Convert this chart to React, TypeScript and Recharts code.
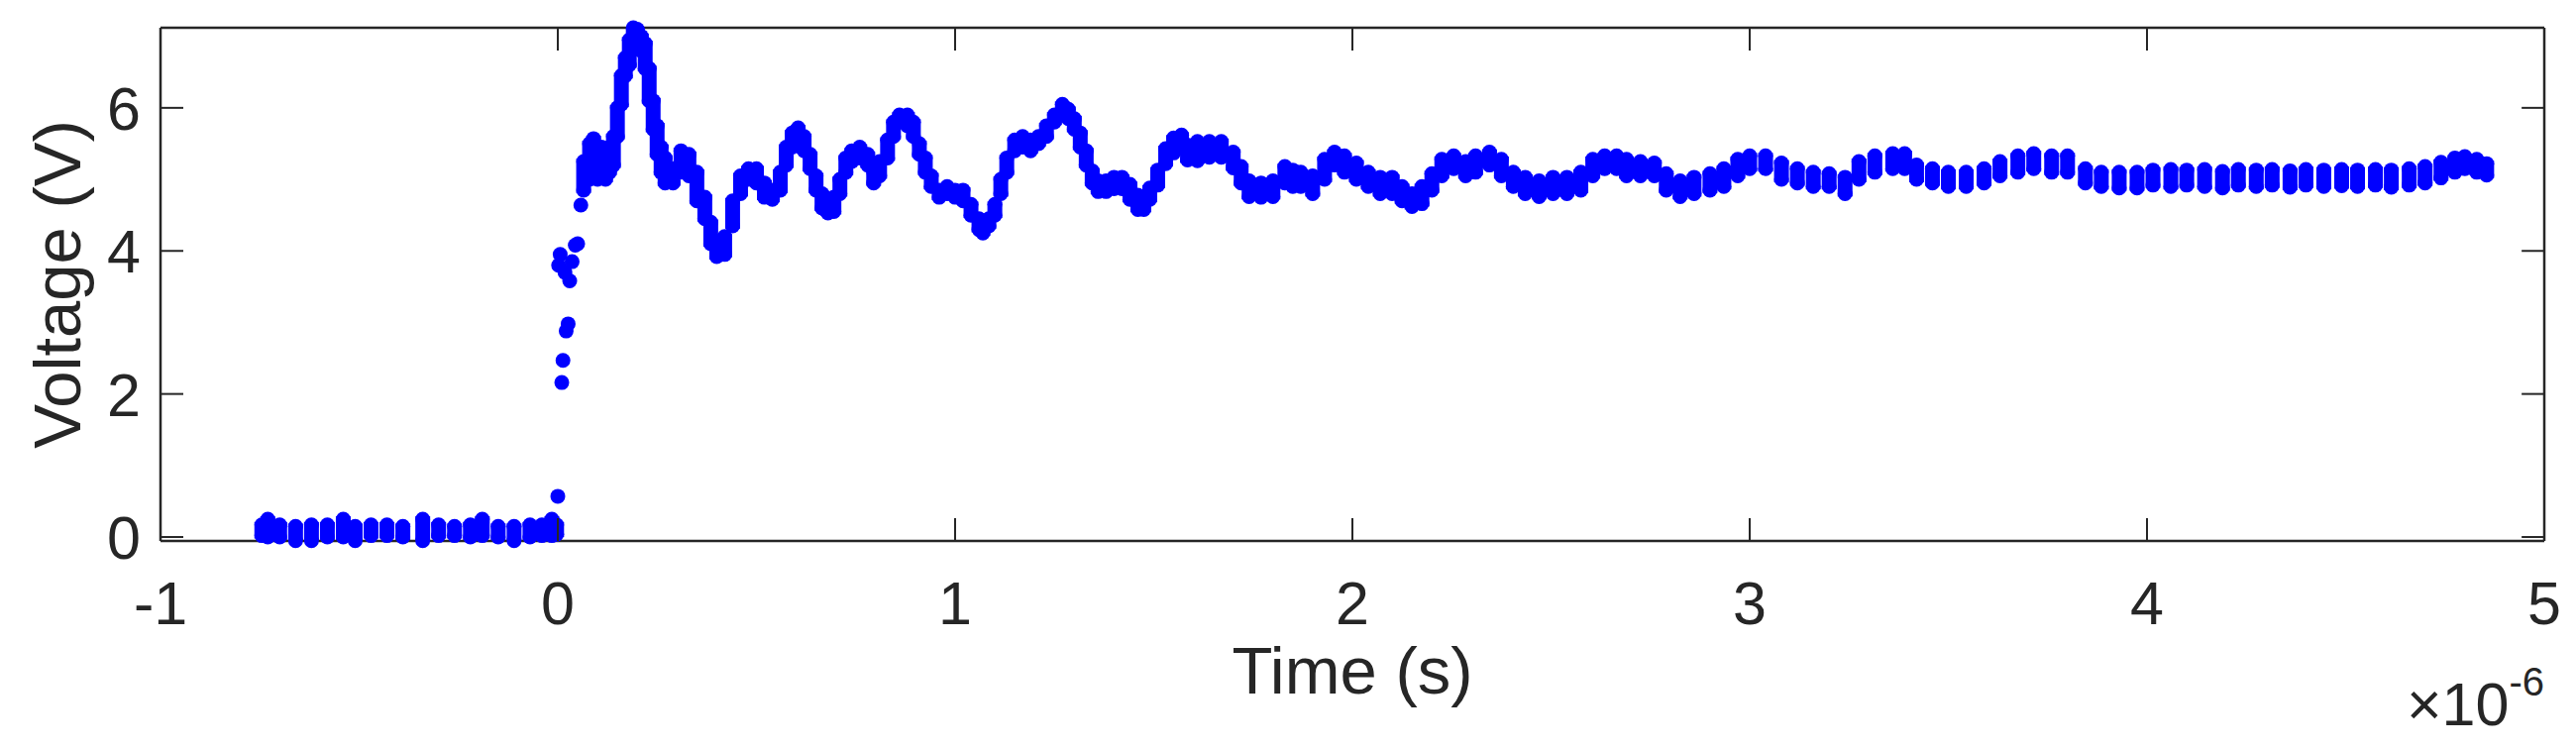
import { ComposedChart, Scatter, ErrorBar, XAxis, YAxis, ReferenceLine } from "recharts";

const AXIS = "#262626";
const BLUE = "#0000ff";
const FONT = '"Liberation Sans", Arial, Helvetica, sans-serif';
const DOT_R = 7.5;
// small overlap (volts) so the band fill tucks under the edge markers
const MARKER_PAD = 0.04;

// time in µs (axis shows ×10^-6 s), voltage in V
const X_MIN = -1;
const X_MAX = 5;
const Y_MIN = -0.055;
const Y_MAX = 7.12;
const xTicks = [-1, 0, 1, 2, 3, 4, 5];
const yTicks = [0, 2, 4, 6];

// pre-trigger baseline: lower / upper edge of the dot band
const baseT = [-0.745, -0.73, -0.7, -0.66, -0.62, -0.58, -0.54, -0.51, -0.47, -0.43, -0.39, -0.34, -0.3, -0.26, -0.22, -0.19, -0.15, -0.11, -0.07, -0.04, -0.015, -0.003];
const baseLo = [0.02, 0.0, 0.0, -0.05, -0.05, 0.0, 0.0, -0.05, 0.02, 0.02, 0.0, -0.05, 0.02, 0.02, 0.0, 0.02, 0.0, -0.05, 0.0, 0.02, 0.02, 0.04];
const baseHi = [0.17, 0.25, 0.17, 0.15, 0.17, 0.17, 0.25, 0.15, 0.17, 0.17, 0.15, 0.25, 0.17, 0.15, 0.17, 0.25, 0.15, 0.15, 0.17, 0.17, 0.25, 0.17];

// isolated samples on the rising edge
const riseT = [0.0, 0.01, 0.013, 0.021, 0.026, 0.002, 0.006, 0.018, 0.03, 0.036, 0.044, 0.05, 0.058];
const riseV = [0.57, 2.16, 2.47, 2.88, 2.98, 3.8, 3.95, 3.7, 3.58, 3.85, 4.08, 4.1, 4.64];

// ringing + settled signal: lower / upper edge of the dot band
const bandT = [
  0.065, 0.08, 0.09, 0.1, 0.11, 0.12, 0.13, 0.14, 0.15, 0.16,
  0.17, 0.18, 0.19, 0.2, 0.21, 0.22, 0.23, 0.24, 0.25, 0.26,
  0.27, 0.29, 0.31, 0.33, 0.35, 0.37, 0.385, 0.4, 0.42, 0.44,
  0.46, 0.48, 0.5, 0.52, 0.54, 0.56, 0.575, 0.59, 0.605, 0.62,
  0.635, 0.65, 0.665, 0.68, 0.695, 0.71, 0.725, 0.74, 0.76, 0.78,
  0.795, 0.81, 0.83, 0.845, 0.86, 0.88, 0.895, 0.91, 0.925, 0.94,
  0.96, 0.98, 1.0, 1.02, 1.04, 1.06, 1.07, 1.085, 1.1, 1.115,
  1.13, 1.15, 1.17, 1.19, 1.21, 1.23, 1.25, 1.27, 1.285, 1.3,
  1.315, 1.33, 1.345, 1.36, 1.38, 1.4, 1.42, 1.44, 1.46, 1.475,
  1.49, 1.51, 1.53, 1.55, 1.57, 1.585, 1.61, 1.64, 1.67, 1.7,
  1.72, 1.74, 1.77, 1.8, 1.83, 1.85, 1.87, 1.9, 1.93, 1.955,
  1.98, 2.01, 2.04, 2.07, 2.1, 2.125, 2.15, 2.175, 2.2, 2.225,
  2.255, 2.285, 2.31, 2.345, 2.375, 2.405, 2.435, 2.47, 2.505, 2.54,
  2.575, 2.605, 2.635, 2.665, 2.69, 2.725, 2.76, 2.79, 2.825, 2.86,
  2.9, 2.935, 2.97, 3.0, 3.04, 3.08, 3.12, 3.16, 3.2, 3.24,
  3.275, 3.315, 3.36, 3.39, 3.42, 3.46, 3.5, 3.545, 3.59, 3.63,
  3.675, 3.715, 3.76, 3.8, 3.845, 3.885, 3.93, 3.975, 4.015, 4.06,
  4.1, 4.145, 4.19, 4.23, 4.275, 4.315, 4.36, 4.4, 4.445, 4.49,
  4.53, 4.575, 4.615, 4.66, 4.7, 4.74, 4.775, 4.8, 4.83, 4.855,
];
const bandLo = [
  4.85, 5.0, 5.1, 5.0, 5.05, 5.0, 5.1, 5.2, 5.6, 6.05,
  6.45, 6.6, 6.95, 6.95, 6.8, 6.55, 6.1, 5.7, 5.35, 5.1,
  4.95, 4.95, 5.1, 5.05, 4.7, 4.45, 4.1, 3.92, 3.95, 4.35,
  4.8, 5.0, 4.95, 4.75, 4.72, 4.85, 5.2, 5.45, 5.6, 5.4,
  5.15, 4.85, 4.6, 4.53, 4.55, 4.8, 5.1, 5.25, 5.3, 5.2,
  4.95, 5.05, 5.3, 5.6, 5.8, 5.75, 5.6, 5.35, 5.1, 4.9,
  4.75, 4.8, 4.75, 4.7, 4.5, 4.3, 4.25, 4.35, 4.5, 4.8,
  5.1, 5.4, 5.45, 5.4, 5.5, 5.6, 5.8, 5.95, 5.85, 5.7,
  5.45, 5.2, 4.95, 4.83, 4.83, 4.87, 4.87, 4.72, 4.58, 4.58,
  4.72, 4.92, 5.22, 5.37, 5.47, 5.27, 5.26, 5.31, 5.31, 5.16,
  4.95, 4.76, 4.75, 4.76, 4.95, 4.9, 4.9, 4.8, 5.0, 5.2,
  5.1, 5.0, 4.9, 4.8, 4.8, 4.7, 4.62, 4.66, 4.85, 5.05,
  5.15, 5.05, 5.1, 5.2, 5.05, 4.9, 4.8, 4.76, 4.8, 4.8,
  4.85, 5.05, 5.15, 5.15, 5.05, 5.05, 5.05, 4.85, 4.76, 4.8,
  4.85, 4.9, 5.05, 5.15, 5.15, 5.0, 4.95, 4.9, 4.9, 4.8,
  5.0, 5.1, 5.15, 5.15, 5.0, 4.95, 4.9, 4.9, 4.95, 5.05,
  5.1, 5.15, 5.1, 5.1, 4.95, 4.9, 4.88, 4.88, 4.92, 4.9,
  4.92, 4.9, 4.88, 4.92, 4.9, 4.92, 4.89, 4.92, 4.9, 4.91,
  4.9, 4.92, 4.89, 4.92, 4.95, 5.02, 5.1, 5.15, 5.1, 5.06,
];
const bandHi = [
  5.25, 5.5, 5.57, 5.45, 5.45, 5.4, 5.45, 5.6, 6.0, 6.45,
  6.7, 6.95, 7.12, 7.1, 7.0, 6.9, 6.55, 6.1, 5.75, 5.45,
  5.3, 5.15, 5.4, 5.35, 5.1, 4.75, 4.4, 4.05, 4.2, 4.7,
  5.05, 5.15, 5.15, 4.95, 4.85, 5.1, 5.45, 5.65, 5.72, 5.6,
  5.35, 5.05, 4.8, 4.65, 4.75, 5.0, 5.3, 5.4, 5.45, 5.35,
  5.1, 5.25, 5.55, 5.8, 5.9, 5.9, 5.8, 5.5, 5.3, 5.05,
  4.85, 4.9, 4.85, 4.85, 4.65, 4.45, 4.35, 4.45, 4.65, 5.0,
  5.3, 5.55, 5.6, 5.55, 5.6, 5.75, 5.9, 6.05, 5.98, 5.85,
  5.65, 5.4, 5.12, 4.98, 4.98, 5.03, 5.03, 4.93, 4.78, 4.73,
  4.88, 5.13, 5.43, 5.58, 5.62, 5.48, 5.53, 5.53, 5.53, 5.38,
  5.18, 4.98, 4.95, 4.98, 5.18, 5.13, 5.1, 5.05, 5.28, 5.38,
  5.33, 5.23, 5.1, 5.03, 5.03, 4.9, 4.8, 4.9, 5.08, 5.28,
  5.33, 5.25, 5.33, 5.38, 5.28, 5.1, 5.03, 4.98, 5.03, 5.03,
  5.1, 5.28, 5.33, 5.33, 5.28, 5.25, 5.23, 5.08, 4.98, 5.03,
  5.08, 5.15, 5.28, 5.33, 5.33, 5.23, 5.15, 5.1, 5.08, 5.03,
  5.25, 5.33, 5.36, 5.36, 5.2, 5.15, 5.1, 5.1, 5.15, 5.25,
  5.33, 5.36, 5.33, 5.33, 5.15, 5.1, 5.1, 5.1, 5.13, 5.14,
  5.13, 5.14, 5.11, 5.14, 5.13, 5.14, 5.12, 5.14, 5.13, 5.14,
  5.13, 5.14, 5.13, 5.15, 5.18, 5.24, 5.3, 5.32, 5.28, 5.22,
];

const allT = [...baseT, ...bandT];
const allLo = [...baseLo, ...bandLo];
const allHi = [...baseHi, ...bandHi];

// lower-edge samples carry the band height as an error bar so the band fills in;
// the pad is trimmed near the axis limits so the y-domain stays put
const loDots = allT.map((t, i) => {
  const lo = allLo[i];
  const hi = allHi[i];
  const padLo = Math.min(MARKER_PAD, lo - Y_MIN);
  const padHi = Math.min(MARKER_PAD, Y_MAX - hi);
  return { t, v: lo, span: [padLo, hi - lo + padHi] };
});
const hiDots = allT.map((t, i) => ({ t, v: allHi[i] }));
const riseDots = riseT.map((t, i) => ({ t, v: riseV[i] }));

// inward tick length expressed in data units (≈23px)
const xTickLen = 0.057;
const yTickLen = 0.32;

const textProps = { fill: AXIS, fontFamily: FONT };

function BottomTick({ x, y, payload }: any) {
  return (
    <g>
      <line x1={x} y1={y} x2={x} y2={y - 23} stroke={AXIS} strokeWidth={2} />
      <text x={x} y={y + 84} textAnchor="middle" fontSize={61} {...textProps}>
        {payload.value}
      </text>
    </g>
  );
}

function LeftTick({ x, y, payload }: any) {
  return (
    <g>
      <line x1={x} y1={y} x2={x + 23} y2={y} stroke={AXIS} strokeWidth={2} />
      <text x={x - 20} y={y + 22} textAnchor="end" fontSize={61} {...textProps}>
        {payload.value}
      </text>
    </g>
  );
}

function XLabel({ viewBox }: any) {
  const { x, y, width } = viewBox;
  return (
    <g>
      <text x={x + width / 2} y={y + 154} textAnchor="middle" fontSize={67} {...textProps}>
        Time (s)
      </text>
      <text x={x + width} y={y + 186} textAnchor="end" fontSize={61} {...textProps}>
        ×10
        <tspan dy={-30} fontSize={40}>
          -6
        </tspan>
      </text>
    </g>
  );
}

function YLabel({ viewBox }: any) {
  const { y, height } = viewBox;
  const cx = 81;
  const cy = y + height / 2;
  return (
    <text
      x={cx}
      y={cy}
      transform={`rotate(-90, ${cx}, ${cy})`}
      textAnchor="middle"
      fontSize={67}
      {...textProps}
    >
      Voltage (V)
    </text>
  );
}

const dot = (p: any) => <circle cx={p.cx} cy={p.cy} r={DOT_R} fill={BLUE} />;

export default function App() {
  const axisLine = { stroke: AXIS, strokeWidth: 2.5 };
  return (
    <div style={{ position: "absolute", left: 0, top: 0, width: 2600, height: 757, background: "#fff" }}>
      <ComposedChart width={2600} height={757} margin={{ top: 28, right: 32, bottom: 0, left: 0 }}>
        <XAxis
          dataKey="t"
          type="number"
          domain={[X_MIN, X_MAX]}
          ticks={xTicks}
          interval={0}
          height={211}
          tickSize={0}
          tickMargin={0}
          tickLine={false}
          axisLine={axisLine}
          tick={BottomTick}
          label={{ content: XLabel }}
        />
        <YAxis
          type="number"
          domain={[Y_MIN, Y_MAX]}
          ticks={yTicks}
          interval={0}
          width={162}
          tickSize={0}
          tickMargin={0}
          tickLine={false}
          axisLine={axisLine}
          tick={LeftTick}
          label={{ content: YLabel }}
        />

        {/* box: top and right edges with inward ticks */}
        <ReferenceLine y={Y_MAX} stroke={AXIS} strokeWidth={2.5} />
        <ReferenceLine x={X_MAX} stroke={AXIS} strokeWidth={2.5} />
        {xTicks.map((t) => (
          <ReferenceLine
            key={`tx${t}`}
            segment={[{ x: t, y: Y_MAX }, { x: t, y: Y_MAX - yTickLen }]}
            stroke={AXIS}
            strokeWidth={2}
          />
        ))}
        {yTicks.map((v) => (
          <ReferenceLine
            key={`ty${v}`}
            segment={[{ x: X_MAX, y: v }, { x: X_MAX - xTickLen, y: v }]}
            stroke={AXIS}
            strokeWidth={2}
          />
        ))}

        <Scatter data={loDots} dataKey="v" shape={dot} isAnimationActive={false}>
          <ErrorBar
            dataKey="span"
            direction="y"
            width={0}
            stroke={BLUE}
            strokeWidth={15}
            isAnimationActive={false}
          />
        </Scatter>
        <Scatter data={hiDots} dataKey="v" shape={dot} isAnimationActive={false} />
        <Scatter data={riseDots} dataKey="v" shape={dot} isAnimationActive={false} />
      </ComposedChart>
    </div>
  );
}
